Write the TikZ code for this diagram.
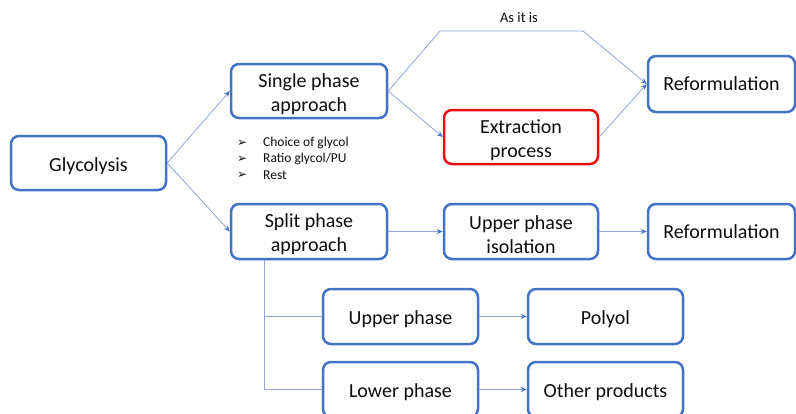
\documentclass[tikz,border=0pt]{standalone}
\usepackage{fontspec}
\setmainfont{Carlito}
\newfontfamily\symfont{DejaVu Sans}
\usetikzlibrary{arrows.meta,calc}
\definecolor{boxblue}{HTML}{4472C4}
\definecolor{linkblue}{HTML}{8FA6D6}
\definecolor{boxred}{HTML}{E81010}
\definecolor{txt}{HTML}{0D0D0D}
\newcommand\mystrut{\rule{0pt}{20pt}}
\begin{document}
\begin{tikzpicture}[x=1pt,y=-1pt,
  box/.style={draw=boxblue,line width=2.5pt,rounded corners=8pt,fill=white,
    minimum width=155pt,minimum height=54pt,align=center,
    font=\fontsize{20}{24}\selectfont,text=txt,inner sep=2pt},
  redbox/.style={box,draw=boxred},
  link/.style={draw=linkblue,line width=0.8pt},
  arr/.style={link,-{Stealth[length=6pt,width=5pt,color=boxblue]}},
  bullet/.style={anchor=west,font=\fontsize{13.5}{15}\selectfont,text=txt,inner sep=0pt}]
\useasboundingbox (0,0) rectangle (796,413);
\node[box] (glyc) at (88.5,163) {\mystrut Glycolysis};
\node[box,minimum width=156pt] (single) at (309,91) {\mystrut Single phase\\approach};
\node[box,minimum width=156pt,minimum height=55pt] (split) at (309,231.5) {\mystrut Split phase\\approach};
\node[redbox,minimum width=154pt] (extr) at (521,137) {\mystrut Extraction\\process};
\node[box,minimum width=147pt,minimum height=56pt] (ref1) at (721.5,84) {Reformulation};
\node[box,minimum width=154pt,minimum height=55pt] (upi) at (521,231.5) {\mystrut Upper phase\\isolation};
\node[box,minimum width=147pt,minimum height=55pt] (ref2) at (721.5,231.5) {Reformulation};
\node[box,minimum height=55pt] (upper) at (400.5,316.5) {\mystrut Upper phase};
\node[box,minimum height=55pt] (polyol) at (605.5,316.5) {\mystrut Polyol};
\node[box,minimum height=55pt] (lower) at (400.5,389.5) {\mystrut Lower phase};
\node[box,minimum height=55pt] (other) at (605.5,389.5) {\mystrut Other products};

\node[bullet] (b1s) at (237,143) {\symfont\fontsize{12}{14}\selectfont ➢};
\node[bullet] (b2s) at (237,159) {\symfont\fontsize{12}{14}\selectfont ➢};
\node[bullet] (b3s) at (237,175) {\symfont\fontsize{12}{14}\selectfont ➢};
\node[bullet] (b1) at (263,143) {Choice of glycol};
\node[bullet] (b2) at (263,159) {Ratio glycol/PU};
\node[bullet] (b3) at (263,175) {Rest};

\coordinate (up1) at (440,31);
\coordinate (up2) at (583,31);
\node[font=\fontsize{14.5}{16}\selectfont,text=txt] (asitis) at (519,18) {As it is};

\draw[arr] (glyc.east) -- (single.west);
\draw[arr] (glyc.east) -- (split.west);
\draw[arr] (single.east) -- (extr.west);
\draw[arr] (single.east) -- (up1) -- (up2) -- (ref1.west);
\draw[arr] (extr.east) -- (ref1.west);
\draw[arr] (split.east) -- (upi.west);
\draw[arr] (upi.east) -- (ref2.west);
\coordinate (sp) at ($(split.south west)+(35,0)$);
\draw[link] (sp) |- (upper.west);
\draw[link] (sp) |- (lower.west);
\draw[arr] (upper.east) -- (polyol.west);
\draw[arr] (lower.east) -- (other.west);
\end{tikzpicture}
\end{document}
